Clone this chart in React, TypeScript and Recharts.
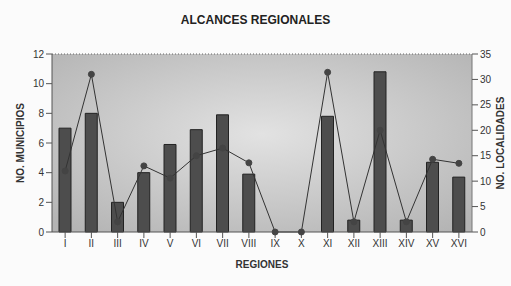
import { ComposedChart, Bar, Line, XAxis, YAxis, CartesianGrid, ReferenceLine } from 'recharts';

const regiones = ['I', 'II', 'III', 'IV', 'V', 'VI', 'VII', 'VIII', 'IX', 'X', 'XI', 'XII', 'XIII', 'XIV', 'XV', 'XVI'];
const municipios = [7, 8, 2, 4, 5.9, 6.9, 7.9, 3.9, 0, 0, 7.8, 0.8, 10.8, 0.8, 4.7, 3.7];
const localidades = [12, 31, 2, 13, 10.6, 15, 16.5, 13.6, 0, 0, 31.4, 2, 20, 2, 14.3, 13.5];
const leftTicks = [0, 2, 4, 6, 8, 10, 12];
const rightTicks = [0, 5, 10, 15, 20, 25, 30, 35];

const data = regiones.map((r, i) => ({ region: r, municipios: municipios[i], localidades: localidades[i] }));

const font = 'Liberation Sans, Arial, sans-serif';
const tick = { fontSize: 10, fill: '#333', fontFamily: font };
const axisLabel = { fontSize: 10, fontWeight: 'bold', fill: '#333', fontFamily: font, textAnchor: 'middle' };

export default function App() {
  return (
    <div style={{ position: 'absolute', left: 0, top: 0, width: 511, height: 286, background: '#fbfbfb' }}>
      <div style={{ position: 'absolute', top: 13, left: 0, width: 511, textAlign: 'center', fontFamily: font, fontWeight: 'bold', fontSize: 12, color: '#222' }}>
        ALCANCES REGIONALES
      </div>
      <ComposedChart width={511} height={286} data={data} margin={{ top: 54, right: 9, left: 22, bottom: 14 }}>
        <defs>
          <radialGradient id="bg" cx="50%" cy="45%" r="70%">
            <stop offset="0%" stopColor="#e2e2e2" />
            <stop offset="100%" stopColor="#b4b4b4" />
          </radialGradient>
        </defs>
        <CartesianGrid fill="url(#bg)" vertical={false} horizontal={false} />
        <ReferenceLine yAxisId="left" y={12} stroke="#666" strokeDasharray="1 2" />
        <XAxis dataKey="region" tick={tick} tickLine={{ stroke: '#555' }} axisLine={{ stroke: '#555' }} height={40}
          label={{ value: 'REGIONES', position: 'insideBottom', offset: 4, style: axisLabel }} />
        <YAxis yAxisId="left" domain={[0, 12]} ticks={leftTicks} tick={tick} width={30} axisLine={{ stroke: '#555' }} tickLine={{ stroke: '#555' }}
          label={{ value: 'NO. MUNICIPIOS', angle: -90, position: 'insideLeft', offset: -2, style: axisLabel }} />
        <YAxis yAxisId="right" orientation="right" domain={[0, 35]} ticks={rightTicks} tick={tick} width={30} axisLine={{ stroke: '#777' }} tickLine={{ stroke: '#555' }}
          label={{ value: 'NO. LOCALIDADES', angle: -90, position: 'insideRight', offset: 2, style: axisLabel }} />
        <Bar yAxisId="left" dataKey="municipios" fill="#4d4d4d" stroke="#222" barSize={12} isAnimationActive={false} />
        <Line yAxisId="right" type="linear" dataKey="localidades" stroke="#333" strokeWidth={1} dot={{ r: 3, fill: '#444', stroke: '#444' }} isAnimationActive={false} />
      </ComposedChart>
    </div>
  );
}
